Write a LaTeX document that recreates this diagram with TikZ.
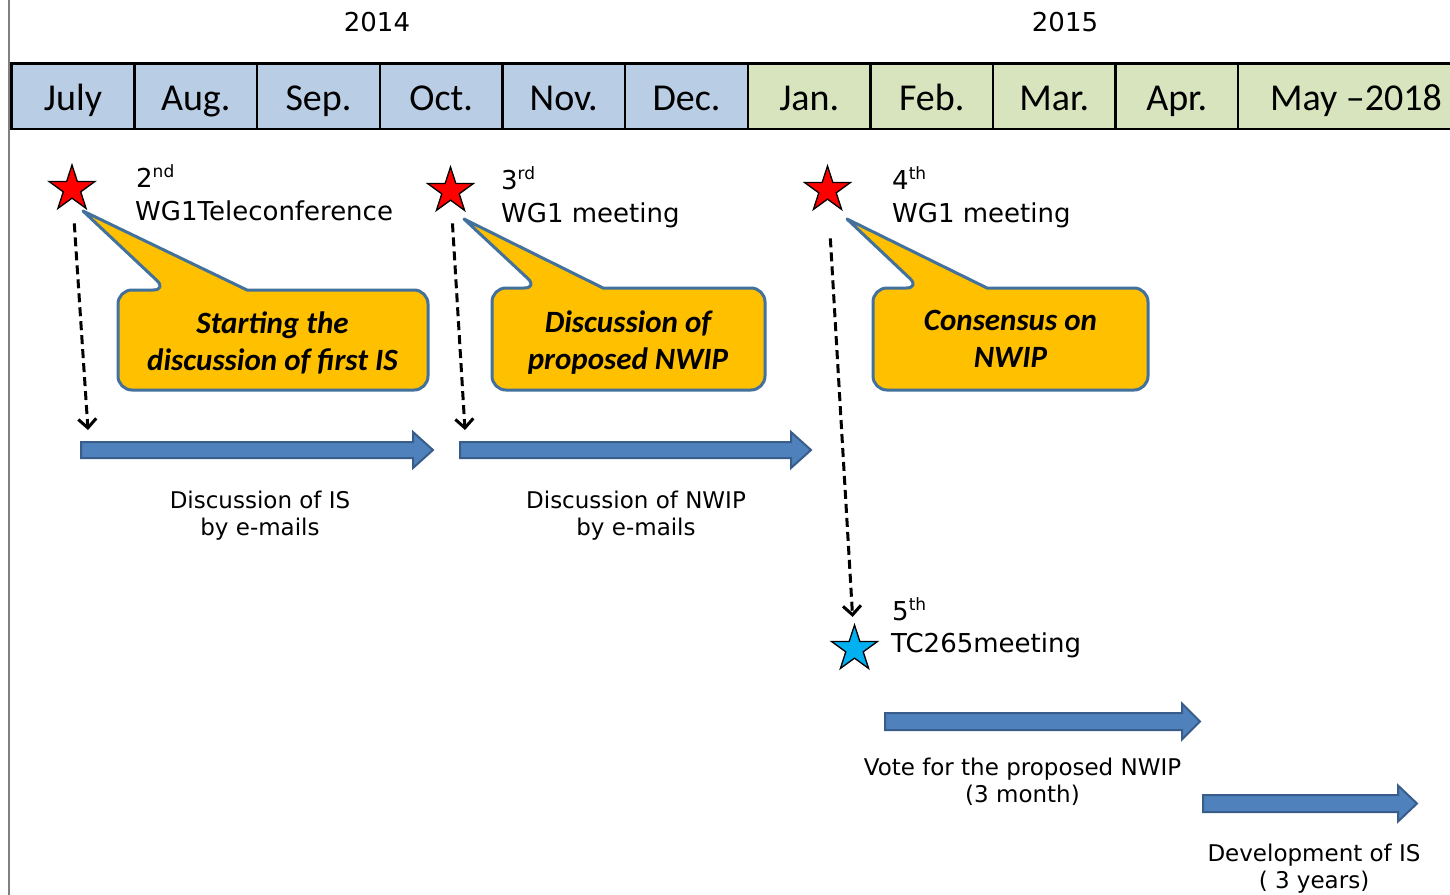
\documentclass[tikz,border=0pt]{standalone}
\usepackage{fontspec}
\setmainfont{DejaVu Sans}
\newfontfamily\calibfont{Carlito}
\usetikzlibrary{shapes.geometric,arrows.meta}
\definecolor{monthblue}{HTML}{B9CDE5}
\definecolor{monthgreen}{HTML}{D7E4BD}
\definecolor{bubblefill}{HTML}{FFC000}
\definecolor{bubbleline}{HTML}{41719C}
\definecolor{arrowfill}{HTML}{4F81BD}
\definecolor{arrowline}{HTML}{385D8A}
\definecolor{starblue}{HTML}{00B0F0}
\newcommand{\myblockarrow}[5]{% x1, xhead, xtip, y, halfshaft
  \draw[blockarrow] (#1,#4-#5) -- (#2,#4-#5) -- (#2,#4-18) -- (#3,#4) -- (#2,#4+18) -- (#2,#4+#5) -- (#1,#4+#5) -- cycle;}
\begin{document}
\begin{tikzpicture}[x=1pt,y=-1pt,
  monthcell/.style={draw=black, line width=2.2pt, minimum height=65.5pt, inner sep=0pt,
    text height=28pt, text depth=0pt, font=\calibfont\fontsize{38}{38}\selectfont},
  yearlbl/.style={inner sep=0pt, font=\fontsize{26}{26}\selectfont},
  starlbl/.style={inner sep=0pt, font=\fontsize{26}{26}\selectfont, anchor=base west},
  eventstar/.style={star, star points=5, star point ratio=2.618, minimum size=48pt,
    inner sep=0pt, draw=black, line width=1.3pt},
  bubble/.style={draw=bubbleline, fill=bubblefill, line width=3pt, line join=round},
  bubbletext/.style={inner sep=0pt, align=center, anchor=north,
    font=\calibfont\bfseries\itshape\fontsize{31}{37}\selectfont},
  blockarrow/.style={draw=arrowline, fill=arrowfill, line width=2pt, line join=miter},
  desc/.style={inner sep=0pt, align=center, anchor=north, font=\fontsize{23}{27}\selectfont},
  dasharrow/.style={draw=black, line width=3pt, dash pattern=on 9pt off 5pt,
    -{Straight Barb[length=9pt,width=18pt]}}
]
\useasboundingbox (0,0) rectangle (1450,894);
\fill[white] (0,0) rectangle (1450,894);
\draw[gray, line width=2pt] (9,-2) -- (9,896);

% years
\node[yearlbl, anchor=base] (y2014) at (377,31.7) {2014};
\node[yearlbl, anchor=base] (y2015) at (1065,31.7) {2015};

% month bar
\node[monthcell, fill=monthblue, minimum width=123pt] (m1) at (73,96.25) {July};
\node[monthcell, fill=monthblue, minimum width=122.5pt] (m2) at (195.75,96.25) {Aug.};
\node[monthcell, fill=monthblue, minimum width=123pt] (m3) at (318.5,96.25) {Sep.};
\node[monthcell, fill=monthblue, minimum width=122.5pt] (m4) at (441.25,96.25) {Oct.};
\node[monthcell, fill=monthblue, minimum width=122.5pt] (m5) at (563.75,96.25) {Nov.};
\node[monthcell, fill=monthblue, minimum width=123pt] (m6) at (686.5,96.25) {Dec.};
\node[monthcell, fill=monthgreen, minimum width=122.5pt] (m7) at (809.25,96.25) {Jan.};
\node[monthcell, fill=monthgreen, minimum width=122.5pt] (m8) at (931.75,96.25) {Feb.};
\node[monthcell, fill=monthgreen, minimum width=122.5pt] (m9) at (1054.25,96.25) {Mar.};
\node[monthcell, fill=monthgreen, minimum width=122.5pt] (m10) at (1176.75,96.25) {Apr.};
\node[monthcell, fill=monthgreen, minimum width=236pt] (m11) at (1356,96.25) {May \textendash 2018};

% callouts
\draw[bubble] (247,290) [rounded corners=14pt] -- (428,290) -- (428,390) -- (118,390) -- (118,290) -- (167,290) [sharp corners] -- (83,211) -- cycle;
\draw[bubble] (603,288) [rounded corners=14pt] -- (765,288) -- (765,390) -- (492,390) -- (492,288) -- (538,288) [sharp corners] -- (464,219) -- cycle;
\draw[bubble] (987,288) [rounded corners=14pt] -- (1148,288) -- (1148,390) -- (873,390) -- (873,288) -- (920,288) [sharp corners] -- (847,219) -- cycle;
\node[bubbletext] (c1) at (272.5,311.5) {Starting the\\discussion of first IS};
\node[bubbletext] (c2) at (628,310.5) {Discussion of\\proposed NWIP};
\node[bubbletext] (c3) at (1010.5,309.5) {Consensus on\\NWIP};

% stars
\node[eventstar, fill=red] (s1) at (72,189) {};
\node[eventstar, fill=red] (s2) at (450.5,191) {};
\node[eventstar, fill=red] (s3) at (827.5,190) {};
\node[eventstar, fill=starblue] (s4) at (854.5,649) {};

% star labels
\node[starlbl] (l1a) at (136,187) {2\raisebox{10pt}{\fontsize{17}{17}\selectfont nd}};
\node[starlbl] (l1b) at (135,220) {WG1Teleconference};
\node[starlbl] (l2a) at (501,189) {3\raisebox{10pt}{\fontsize{17}{17}\selectfont rd}};
\node[starlbl] (l2b) at (501,222) {WG1 meeting};
\node[starlbl] (l3a) at (892,189) {4\raisebox{10pt}{\fontsize{17}{17}\selectfont th}};
\node[starlbl] (l3b) at (892,222) {WG1 meeting};
\node[starlbl] (l4a) at (892,620) {5\raisebox{10pt}{\fontsize{17}{17}\selectfont th}};
\node[starlbl] (l4b) at (891,652) {TC265meeting};

% dashed connectors
\coordinate (d1) at (88,430);
\coordinate (d2) at (465,430);
\draw[dasharrow, shorten <=24pt] (s1) -- (d1);
\draw[dasharrow, shorten <=22pt] (s2) -- (d2);
\draw[dasharrow, shorten <=38pt, shorten >=10pt] (s3) -- (s4);

% block arrows
\myblockarrow{81}{413}{433}{450}{8}
\myblockarrow{460}{791}{811}{450}{8}
\myblockarrow{885}{1182}{1200}{721.5}{8.5}
\myblockarrow{1203}{1398}{1417}{803.5}{8.5}

% descriptions
\node[desc] (t1) at (260,490.5) {Discussion of IS\\by e-mails};
\node[desc] (t2) at (636,490.5) {Discussion of NWIP\\by e-mails};
\node[desc] (t3) at (1022.5,757.5) {Vote for the proposed NWIP\\(3 month)};
\node[desc] (t4) at (1314,843.5) {Development of IS\\( 3 years)};
\end{tikzpicture}
\end{document}
